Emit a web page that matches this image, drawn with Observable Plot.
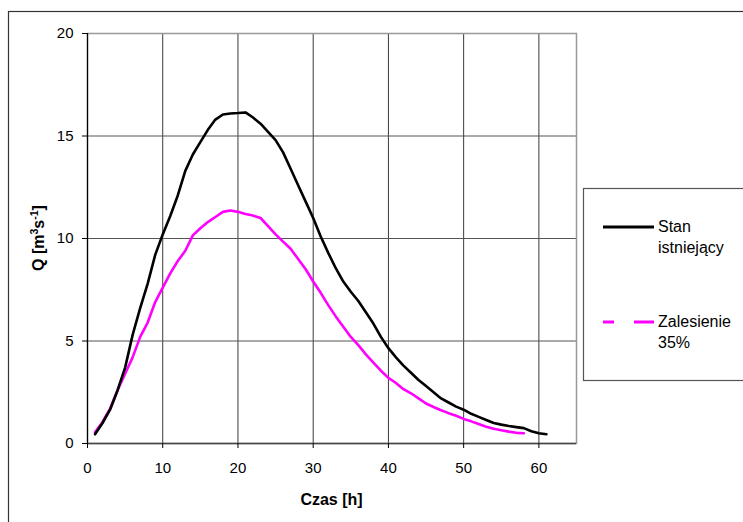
<!DOCTYPE html>
<html>
<head>
<meta charset="utf-8">
<script src="https://cdn.jsdelivr.net/npm/d3@7"></script>
<script src="https://cdn.jsdelivr.net/npm/@observablehq/plot@0.6"></script>
<style>
  html, body { margin: 0; padding: 0; background: #fff; }
  #chart { width: 743px; height: 522px; overflow: hidden; }
</style>
</head>
<body>
<div id="chart"></div>
<script>
// ---- data ----
const hoursStan = d3.range(1, 62);
const stanValues = [
  0.45, 1.0, 1.65, 2.6, 3.7, 5.3, 6.6, 7.8, 9.2, 10.2,
  11.1, 12.1, 13.3, 14.1, 14.7, 15.3, 15.8, 16.05, 16.1, 16.12,
  16.15, 15.9, 15.6, 15.2, 14.8, 14.2, 13.4, 12.6, 11.8, 11.0,
  10.1, 9.3, 8.55, 7.9, 7.4, 6.95, 6.4, 5.85, 5.2, 4.65,
  4.2, 3.8, 3.45, 3.1, 2.8, 2.5, 2.2, 2.0, 1.8, 1.65,
  1.45, 1.3, 1.15, 1.0, 0.92, 0.85, 0.8, 0.75, 0.6, 0.5,
  0.45
];
const hoursZal = d3.range(1, 59);
const zalValues = [
  0.55, 1.05, 1.7, 2.6, 3.4, 4.2, 5.2, 5.9, 6.9, 7.6,
  8.3, 8.9, 9.4, 10.15, 10.5, 10.8, 11.05, 11.3, 11.37, 11.3,
  11.2, 11.12, 11.0, 10.6, 10.2, 9.85, 9.5, 9.0, 8.5, 7.9,
  7.35, 6.75, 6.2, 5.7, 5.2, 4.8, 4.35, 3.95, 3.55, 3.2,
  2.95, 2.65, 2.45, 2.2, 1.95, 1.78, 1.62, 1.48, 1.35, 1.2,
  1.08, 0.95, 0.82, 0.72, 0.65, 0.58, 0.52, 0.5
];
const seriesNames = [["Stan", "istniejący"], ["Zalesienie", "35%"]];
const seriesColors = ["#000000", "#ff00ff"];
const xTicks = [0, 10, 20, 30, 40, 50, 60];
const yTicks = [0, 5, 10, 15, 20];
const xDomain = [0, 65];
const yDomain = [0, 20];
const xTitle = "Czas [h]";

const stan = hoursStan.map((h, i) => ({h, q: stanValues[i]}));
const zal = hoursZal.map((h, i) => ({h, q: zalValues[i]}));

const FONT = "'Liberation Sans', Arial, sans-serif";

const chart = Plot.plot({
  width: 743,
  height: 522,
  marginLeft: 87,
  marginRight: 167,
  marginTop: 33,
  marginBottom: 79,
  style: {fontFamily: FONT, fontSize: "15px", color: "#000", background: "transparent"},
  x: {domain: xDomain},
  y: {domain: yDomain},
  marks: [
    Plot.gridX(xTicks.slice(1), {stroke: "#3a3a3a", strokeOpacity: 1, strokeWidth: 1}),
    Plot.gridY(yTicks.slice(1), {stroke: "#555", strokeOpacity: 1, strokeWidth: 1}),
    Plot.frame({stroke: "#999", strokeWidth: 1.5}),
    Plot.ruleX([0], {stroke: "#000", strokeWidth: 1.2}),
    Plot.ruleY([0], {stroke: "#444", strokeWidth: 1.5}),
    Plot.axisX(xTicks, {tickSize: 5, tickPadding: 14, label: null, stroke: "#000", fill: "#000", fontSize: 15}),
    Plot.axisY(yTicks, {tickSize: 5, tickPadding: 9, label: null, stroke: "#000", fill: "#000", fontSize: 15}),
    Plot.line(zal, {x: "h", y: "q", stroke: seriesColors[1], strokeWidth: 2.6, curve: "linear"}),
    Plot.line(stan, {x: "h", y: "q", stroke: seriesColors[0], strokeWidth: 2.6, curve: "linear"})
  ]
});

const svg = d3.select(chart);
const xs = chart.scale("x"), ys = chart.scale("y");
const cx = (xs.apply(xDomain[0]) + xs.apply(xDomain[1])) / 2;
const cy = (ys.apply(yDomain[0]) + ys.apply(yDomain[1])) / 2;

// outer chart frame
svg.insert("rect", ":first-child")
  .attr("x", 8.5).attr("y", 11.5).attr("width", 900).attr("height", 700)
  .attr("fill", "none").attr("stroke", "#333").attr("stroke-width", 1.2);

// x title
svg.append("text")
  .attr("x", cx).attr("y", 505)
  .attr("text-anchor", "middle").attr("font-weight", "bold")
  .attr("font-family", FONT)
  .attr("font-size", 16).attr("fill", "#000")
  .text(xTitle);

// y title with superscripts
const yt = svg.append("text")
  .attr("transform", `translate(44,${cy}) rotate(-90)`)
  .attr("text-anchor", "middle").attr("font-weight", "bold")
  .attr("font-family", FONT)
  .attr("font-size", 16).attr("fill", "#000");
yt.append("tspan").text("Q [m");
yt.append("tspan").attr("dy", -6).attr("font-size", 10.5).text("3");
yt.append("tspan").attr("dy", 6).text("s");
yt.append("tspan").attr("dy", -6).attr("font-size", 10.5).text("-1");
yt.append("tspan").attr("dy", 6).text("]");

// legend
const lg = svg.append("g");
lg.append("rect").attr("x", 583.5).attr("y", 188.5).attr("width", 200).attr("height", 192)
  .attr("fill", "#fff").attr("stroke", "#555").attr("stroke-width", 1.2);
const keyY = [227, 322];
seriesNames.forEach((lines, i) => {
  lg.append("line").attr("x1", 603).attr("x2", 654).attr("y1", keyY[i]).attr("y2", keyY[i])
    .attr("stroke", seriesColors[i]).attr("stroke-width", 3)
    .attr("stroke-dasharray", i === 1 ? "11,20,20,100" : null);
  const t = lg.append("text").attr("x", 658).attr("y", keyY[i] + 5)
    .attr("text-anchor", "start")
    .attr("font-family", FONT)
    .attr("font-size", 16).attr("fill", "#000");
  lines.forEach((s, j) => {
    t.append("tspan").attr("x", 658).attr("dy", j === 0 ? 0 : 20.5).text(s);
  });
});

document.getElementById("chart").appendChild(chart);
</script>
</body>
</html>
